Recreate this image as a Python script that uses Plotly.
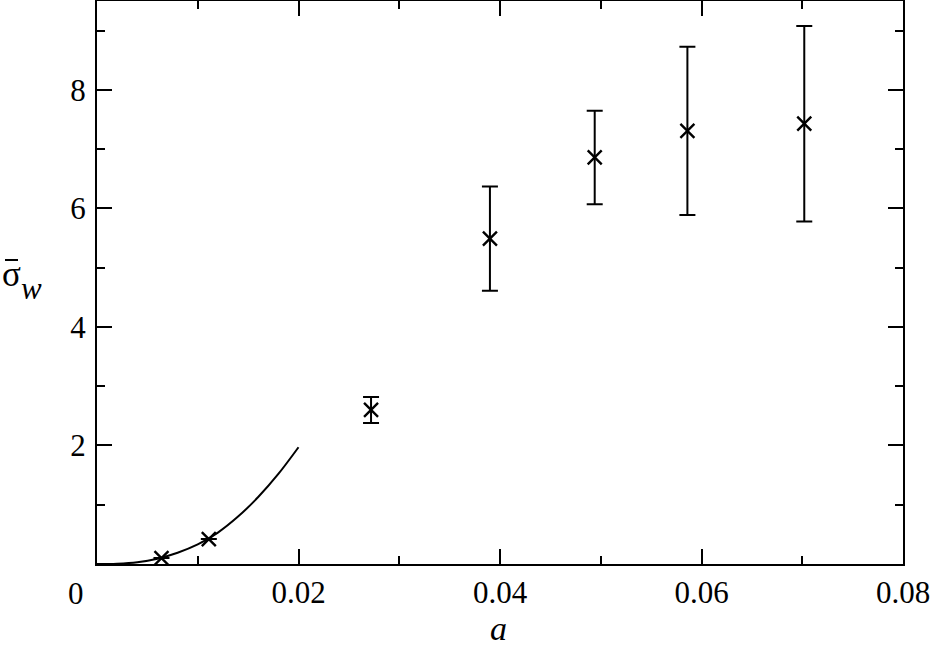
import plotly.graph_objects as go

# measured points
a_pts = [0.0064, 0.0111, 0.0272, 0.0390, 0.0494, 0.0586, 0.0702]
sigma_pts = [0.10, 0.42, 2.60, 5.49, 6.86, 7.31, 7.43]
sigma_err = [0.0, 0.0, 0.22, 0.88, 0.79, 1.42, 1.65]

# theory curve
a_curve = [0, 0.002, 0.004, 0.006, 0.008, 0.010, 0.012, 0.014, 0.016, 0.018, 0.020]
sigma_curve = [0, 0.005, 0.03, 0.09, 0.19, 0.33, 0.53, 0.80, 1.13, 1.52, 1.97]

x_ticks = [0.02, 0.04, 0.06, 0.08]
x_ticktext = ["0.02", "0.04", "0.06", "0.08"]
x_minor = [0.01, 0.03, 0.05, 0.07]
y_ticks = [2, 4, 6, 8]
y_minor = [1, 3, 5, 7, 9]

FONT = "Liberation Serif"

W, H = 935, 651
ML, MR, MT, MB = 97, 32, 1, 87
PW, PH = W - ML - MR, H - MT - MB


def px(xp):
    return (xp - ML) / PW


def py(yp):
    return (H - MB - yp) / PH


fig = go.Figure()
fig.add_trace(go.Scatter(x=a_curve, y=sigma_curve, mode="lines", line_shape="spline",
                         line=dict(color="black", width=2), showlegend=False))
fig.add_trace(go.Scatter(x=a_pts, y=sigma_pts, mode="markers",
                         marker=dict(symbol="x-thin", size=14, line=dict(color="black", width=2.4)),
                         error_y=dict(type="data", array=sigma_err, visible=True,
                                      color="black", thickness=2, width=8),
                         showlegend=False))

axis_common = dict(showline=True, linecolor="black", linewidth=2, mirror="allticks",
                   ticks="inside", ticklen=15, tickwidth=2, tickcolor="black",
                   showgrid=False, zeroline=False, automargin=False,
                   tickfont=dict(family=FONT, size=31, color="black"))

fig.update_xaxes(range=[0, 0.08], tickmode="array", tickvals=x_ticks, ticktext=x_ticktext,
                 minor=dict(tickmode="array", tickvals=x_minor, ticklen=8, tickwidth=2,
                            tickcolor="black", ticks="inside"),
                 ticklabelstandoff=0, **axis_common)
fig.update_yaxes(range=[0, 9.5], tickmode="array", tickvals=y_ticks,
                 minor=dict(tickmode="array", tickvals=y_minor, ticklen=8, tickwidth=2,
                            tickcolor="black", ticks="inside"),
                 ticklabelstandoff=3, **axis_common)

fig.update_layout(
    width=W, height=H,
    margin=dict(l=ML, r=MR, t=MT, b=MB),
    plot_bgcolor="white", paper_bgcolor="white",
    font=dict(family=FONT, size=31, color="black"),
    annotations=[
        dict(text="0", x=px(76), y=py(593), xref="paper", yref="paper", showarrow=False,
             xanchor="center", yanchor="middle", font=dict(family=FONT, size=31)),
        dict(text="<i>a</i>", x=px(498), y=py(628), xref="paper", yref="paper", showarrow=False,
             xanchor="center", yanchor="middle", font=dict(family=FONT, size=34)),
        dict(text="σ", x=px(11), y=py(274), xref="paper", yref="paper",
             showarrow=False, xanchor="center", yanchor="middle",
             font=dict(family=FONT, size=35)),
        dict(text="<i>w</i>", x=px(31), y=py(288), xref="paper", yref="paper",
             showarrow=False, xanchor="center", yanchor="middle",
             font=dict(family=FONT, size=31)),
    ],
    shapes=[
        dict(type="line", xref="paper", yref="paper", x0=px(5), x1=px(18), y0=py(260), y1=py(260),
             line=dict(color="black", width=2)),
    ],
)
fig.write_html("out.html", config={"displayModeBar": False},
               post_script="document.body.style.margin='0';")
